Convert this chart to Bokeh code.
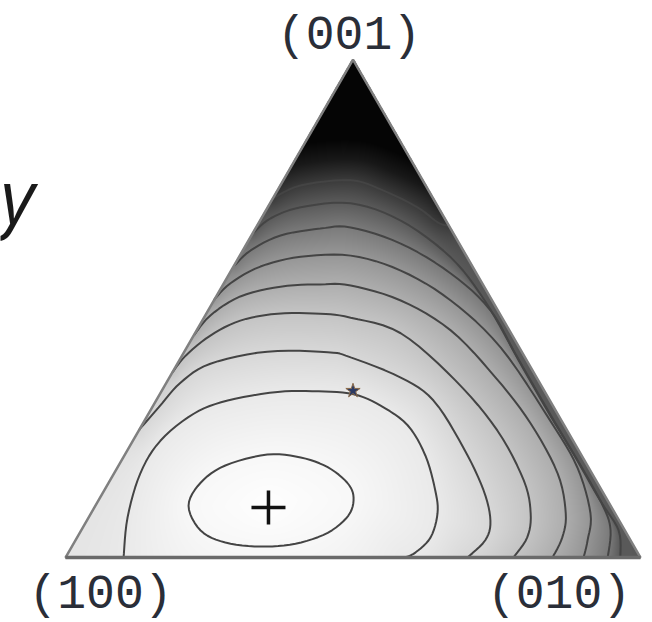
import numpy as np
from bokeh.plotting import figure
from bokeh.models import Range1d, Label
from bokeh.embed import file_html
from bokeh.resources import INLINE
from bokeh.core.properties import value

# ---------------- data (ternary diagram, side length = 100) ----------------
corner_labels = ["(100)", "(010)", "(001)"]
corner_x = [0.0, 100.0, 50.0]
corner_h = [0.0, 0.0, 50.0 * np.sqrt(3.0)]
axis_symbol = "y"

# minimum (+) and the marked composition (*)
minimum_x = [35.3]
minimum_h = [8.7]
star_x = [50.0]
star_h = [29.0]

# contour lines (x along (100)->(010), h = height)
c1_x = [21.4, 23.5, 27.8, 35.1, 40.9, 45.6, 49.0, 50.1, 49.2, 45.6, 40.0, 33.9, 27.8, 23.5]
c1_h = [9.0, 13.0, 16.0, 17.9, 17.4, 15.7, 13.0, 10.4, 7.3, 4.3, 2.4, 1.9, 2.6, 4.7]
c2_x = [10.1, 10.8, 13.0, 16.5, 22.3, 28.2, 36.9, 44.0, 50.1, 54.8, 59.5, 62.6, 64.3, 64.7, 63.5, 60.9, 59.1]
c2_h = [0.0, 7.0, 14.6, 20.3, 25.0, 27.3, 28.8, 28.9, 28.4, 26.4, 23.0, 17.7, 11.7, 7.7, 3.5, 0.9, 0.0]
c3_x = [12.7, 16.2, 20.0, 25.2, 35.1, 45.6, 49.6, 58.3, 64.0, 69.2, 72.7, 73.9, 73.0, 69.9]
c3_h = [22.1, 26.1, 30.4, 33.7, 35.8, 35.7, 34.8, 31.3, 27.3, 19.1, 11.7, 6.4, 3.0, 0.0]
c4_x = [18.6, 20.9, 25.2, 30.4, 36.9, 44.3, 49.6, 58.3, 67.8, 75.1, 79.7, 80.9, 80.3, 77.9]
c4_h = [32.2, 35.1, 38.6, 41.2, 42.4, 42.4, 41.7, 39.0, 30.8, 22.1, 13.4, 7.7, 3.5, 0.0]
c5_x = [22.3, 25.2, 30.4, 37.4, 44.3, 49.6, 58.3, 67.0, 74.8, 80.9, 85.6, 87.0, 86.4, 84.7]
c5_h = [38.6, 42.1, 45.4, 47.1, 47.5, 47.3, 44.7, 39.5, 31.3, 23.3, 14.6, 7.7, 3.5, 0.0]
c6_x = [25.7, 28.7, 33.9, 40.9, 49.6, 58.3, 67.0, 75.7, 84.3, 89.0, 91.3, 90.8, 90.1]
c6_h = [44.7, 47.7, 50.6, 52.3, 52.5, 49.9, 44.7, 36.5, 23.8, 15.7, 7.7, 3.0, 0.0]
c7_x = [29.4, 32.2, 37.4, 44.3, 49.6, 58.3, 67.0, 73.9, 78.8, 84.3, 89.6, 93.6, 94.8, 94.3]
c7_h = [50.8, 53.4, 56.0, 57.2, 57.4, 54.6, 49.4, 43.0, 34.3, 24.7, 16.0, 8.7, 4.7, 0.0]
c8_x = [32.7, 35.7, 40.9, 49.6, 58.3, 67.0, 72.9, 77.9, 82.9, 88.0, 93.0, 96.2, 96.5]
c8_h = [56.5, 59.0, 60.9, 61.6, 58.6, 52.2, 44.7, 36.0, 27.3, 18.6, 9.9, 4.7, 0.0]
c9_x = [36.0, 40.9, 49.6, 55.3, 61.2, 64.7, 66.5]
c9_h = [62.4, 64.7, 65.6, 63.8, 60.9, 58.3, 57.7]

contours = [(c1_x, c1_h, True), (c2_x, c2_h, False), (c3_x, c3_h, False),
            (c4_x, c4_h, False), (c5_x, c5_h, False), (c6_x, c6_h, False),
            (c7_x, c7_h, False), (c8_x, c8_h, False), (c9_x, c9_h, False)]

# grey of the shading from the minimum (level 0) outwards
band_gray = [255, 248, 234, 216, 196, 174, 150, 122, 90, 58, 25, 5]

S3 = np.sqrt(3.0)
TOP = corner_h[2]


def catmull(xs, hs, closed, n=6):
    P = np.column_stack([xs, hs]).astype(float)
    if closed:
        P = np.vstack([P[-1], P, P[0], P[1]])
    else:
        P = np.vstack([P[0], P, P[-1]])
    out = []
    t = np.linspace(0, 1, n, endpoint=False)[:, None]
    for i in range(1, len(P) - 2):
        p0, p1, p2, p3 = P[i - 1], P[i], P[i + 1], P[i + 2]
        seg = 0.5 * ((2 * p1) + (-p0 + p2) * t + (2 * p0 - 5 * p1 + 4 * p2 - p3) * t ** 2
                     + (-p0 + 3 * p1 - 3 * p2 + p3) * t ** 3)
        out.append(seg)
    out.append((P[1] if closed else P[-2])[None, :])
    return np.vstack(out)


def clamp(pts):
    x, h = pts[:, 0].copy(), pts[:, 1].copy()
    for _ in range(2):
        h = np.maximum(h, 0.0)
        bad = h > S3 * x
        tt = 0.5 * x + (S3 / 2) * h
        x = np.where(bad, 0.5 * tt, x)
        h = np.where(bad, (S3 / 2) * tt, h)
        bad = h > S3 * (100 - x)
        tt = -0.5 * (x - 100) + (S3 / 2) * h
        x = np.where(bad, 100 - 0.5 * tt, x)
        h = np.where(bad, (S3 / 2) * tt, h)
    return np.column_stack([x, h])


cx, ch = minimum_x[0], minimum_h[0]


def region(pts, closed):
    if closed:
        return pts
    s, e = pts[0], pts[-1]
    a_s = np.arctan2(s[1] - ch, s[0] - cx)
    a_e = np.arctan2(e[1] - ch, e[0] - cx)
    while a_s >= a_e:
        a_s -= 2 * np.pi
    arc = np.linspace(a_e, a_s, 60)
    ring = np.column_stack([cx + 400 * np.cos(arc), ch + 400 * np.sin(arc)])
    return np.vstack([pts, ring])


def inside(poly, GX, GH):
    res = np.zeros(GX.shape, dtype=bool)
    px, py = poly[:, 0], poly[:, 1]
    j = len(px) - 1
    for i in range(len(px)):
        xi, yi, xj, yj = px[i], py[i], px[j], py[j]
        if yi != yj:
            cond = (yi > GH) != (yj > GH)
            xint = (xj - xi) * (GH - yi) / (yj - yi) + xi
            res ^= cond & (GX < xint)
        j = i
    return res


def dist(P, GX, GH):
    best = np.full(GX.shape, np.inf, dtype=np.float32)
    for (ax, ah), (bx, bh) in zip(P[:-1], P[1:]):
        dx, dh = bx - ax, bh - ah
        L2 = dx * dx + dh * dh
        if L2 == 0:
            continue
        t = ((GX - ax) * dx + (GH - ah) * dh) / L2
        np.clip(t, 0, 1, out=t)
        ex = GX - (ax + t * dx)
        eh = GH - (ah + t * dh)
        np.minimum(best, ex * ex + eh * eh, out=best)
    return np.sqrt(best)


lines = [clamp(catmull(xs, hs, cl)) for xs, hs, cl in contours]

nx, ny = 575, 498
gx = ((np.arange(nx) + 0.5) * 100.0 / nx).astype(np.float32)
gh = ((np.arange(ny) + 0.5) * TOP / ny).astype(np.float32)
GX, GH = np.meshgrid(gx, gh)
in_tri = (GH <= S3 * GX) & (GH <= S3 * (100 - GX))

outside_count = np.zeros(GX.shape, dtype=np.int64)
D = [np.sqrt((GX - cx) ** 2 + (GH - ch) ** 2)]
for (xs, hs, cl), ln in zip(contours, lines):
    outside_count += ~inside(region(ln, cl), GX, GH)
    D.append(dist(ln, GX, GH))
D = np.stack(D)
n = outside_count
lo = np.take_along_axis(D, n[None], 0)[0]
hi = np.take_along_axis(D, np.minimum(n + 1, 9)[None], 0)[0]
v = np.where(n < 9, n + lo / (lo + hi + 1e-6), 9 + lo / 3.5)
g = np.interp(v, np.arange(len(band_gray)), band_gray).astype(np.uint8)

img = np.zeros((ny, nx), dtype=np.uint32)
view = img.view(dtype=np.uint8).reshape((ny, nx, 4))
view[..., 0] = g
view[..., 1] = g
view[..., 2] = g
view[..., 3] = np.where(in_tri, 255, 0).astype(np.uint8)

# ---------------- figure ----------------
W, H = 648, 622
p = figure(width=W, height=H, output_backend="svg", toolbar_location=None,
           x_range=Range1d(-11.304, 101.391), y_range=Range1d(-11.304, 96.870),
           min_border=0)
p.axis.visible = False
p.grid.visible = False
p.outline_line_color = None
p.background_fill_color = "white"
p.border_fill_color = "white"

p.image_rgba(image=[img], x=0, y=0, dw=100, dh=TOP)

p.multi_line(xs=[list(l[:, 0]) for l in lines], ys=[list(l[:, 1]) for l in lines],
             line_color="#444444", line_width=2)

p.patch(x=corner_x, y=corner_h, fill_color=None, line_color="#808080", line_width=2.5)
p.line(x=corner_x[:2], y=corner_h[:2], line_color="#6a6a6a", line_width=3.5)

p.scatter(x=minimum_x, y=minimum_h, marker="cross", size=34, line_color="#111111", line_width=3.5)
p.scatter(x=star_x, y=star_h, marker="star", size=15, fill_color="#2b3a63",
          line_color="#8a6a4a", line_width=1)

p.text(x=corner_x, y=corner_h, text=corner_labels, x_offset=[35, -81.5, -4], y_offset=[37.5, 37.5, -24],
       text_font=value("Liberation Mono"), text_font_size="48px", text_color="#2a2e38",
       text_align="center", text_baseline="middle")

p.add_layout(Label(x=0, y=428, x_units="screen", y_units="screen", text=axis_symbol,
                   text_font="Open Sans", text_font_style="italic", text_font_size="74px",
                   text_color="#1a1a1a", text_baseline="alphabetic"))

open("out.html", "w").write(file_html(p, INLINE))
